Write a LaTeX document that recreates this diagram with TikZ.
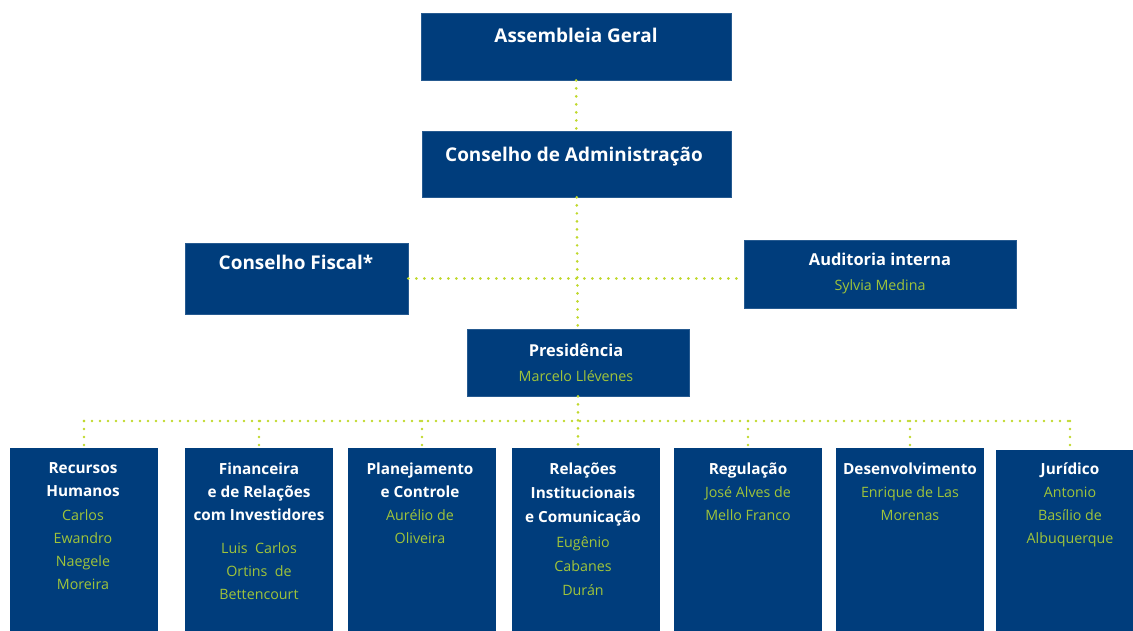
\documentclass[tikz,border=0pt]{standalone}
\usepackage{fontspec}
\setmainfont{Open Sans}
\usepackage{xcolor}
\usetikzlibrary{positioning}
\definecolor{orgblue}{RGB}{0,61,124}
\definecolor{dotgreen}{RGB}{192,216,44}
\definecolor{namegreen}{RGB}{160,196,58}
\newcommand{\pname}[1]{\textcolor{namegreen}{\fontsize{10.7}{17}\selectfont\mdseries #1}}
\tikzset{
    unitbox/.style 2 args={fill=orgblue,draw=orgblue!85!white,line width=0.6pt,inner sep=0pt,
        minimum width=0.75pt*#1,minimum height=0.75pt*#2},
    deptbox/.style={unitbox={148}{183},draw=none},
    big title/.style={anchor=base,inner sep=0pt,white,font=\fontsize{14.2}{18}\selectfont\bfseries},
    mid title/.style={anchor=north,inner sep=0pt,white,align=center,
        font=\fontsize{12.3}{18.5}\selectfont\bfseries,execute at begin node={\rule{0pt}{10pt}}},
    dept title/.style={anchor=north,inner sep=0pt,white,align=center,
        font=\fontsize{11.5}{#1}\selectfont\bfseries,execute at begin node={\rule{0pt}{10pt}}},
    dept title/.default=17.3,
    link/.style={dotgreen,line width=2.2pt,line cap=round,dash pattern=on 0pt off 6pt},
}

\begin{document}
\begin{tikzpicture}[x=0.75pt,y=-0.75pt]
    \clip (0,0) rectangle (1133,631);
    % councils
    \node[unitbox={310}{67}] (ag) at (576,46.5) {};
    \node[big title] (ag-t) at (576,43) {Assembleia Geral};
    \node[unitbox={309}{66}] (ca) at (576.5,164) {};
    \node[big title] (ca-t) at (574,162) {Conselho de Administração};
    \node[unitbox={223}{71}] (cf) at (296.5,278.5) {};
    \node[big title] (cf-t) at (296,270) {Conselho Fiscal*};
    \node[unitbox={272}{68}] (ai) at (880,274) {};
    \node[mid title] (ai-t) at (880,252.7) {Auditoria interna\\ \pname{Sylvia Medina}};
    \node[unitbox={222}{67}] (pres) at (578,362.5) {};
    \node[mid title] (pres-t) at (576,343.7) {Presidência\\ \pname{Marcelo Llévenes}};

    % departments
    \node[deptbox] (rh) at (84,539.5) {};
    \node[dept title] (rh-t) at (83,462.7) {Recursos\\ Humanos\\ \pname{Carlos}\\ \pname{Ewandro}\\ \pname{Naegele}\\ \pname{Moreira}};
    \node[deptbox] (fin) at (259,539.5) {};
    \node[dept title] (fin-t) at (259,462.7) {Financeira\\ e de Relações\\ com Investidores\\[7pt] \pname{Luis\ \ Carlos}\\ \pname{Ortins\ \ de}\\ \pname{Bettencourt}};
    \node[deptbox] (plan) at (422,539.5) {};
    \node[dept title] (plan-t) at (420,462.7) {Planejamento\\ e Controle\\ \pname{Aurélio de}\\ \pname{Oliveira}};
    \node[deptbox] (rel) at (586,539.5) {};
    \node[dept title=18.1] (rel-t) at (583,462.7) {Relações\\ Institucionais\\ e Comunicação\\ \pname{Eugênio}\\ \pname{Cabanes}\\ \pname{Durán}};
    \node[deptbox] (reg) at (748,539.5) {};
    \node[dept title] (reg-t) at (748,462.7) {Regulação\\ \pname{José Alves de}\\ \pname{Mello Franco}};
    \node[deptbox] (des) at (910,539.5) {};
    \node[dept title] (des-t) at (910,462.7) {Desenvolvimento\\ \pname{Enrique de Las}\\ \pname{Morenas}};
    \node[deptbox] (jur) at (1070,541) {};
    \node[dept title] (jur-t) at (1070,462.7) {Jurídico\\ \pname{Antonio}\\ \pname{Basílio de}\\ \pname{Albuquerque}};

    % dotted links
    \draw[link] (ag) -- (ca);
    \draw[link] (ca) -- (pres);
    \draw[link] (cf.east) -- (cf.east -| ai.west);
    \coordinate (bus) at (578,421);
    \draw[link] (pres.south) -- (pres.south |- rel.north);
    \draw[link] (rh.north |- bus) -- (jur.north |- bus);
    \foreach \d in {rh,fin,plan,reg,des,jur}
        \draw[link] (\d.north |- bus) -- (\d.north);
\end{tikzpicture}
\end{document}
